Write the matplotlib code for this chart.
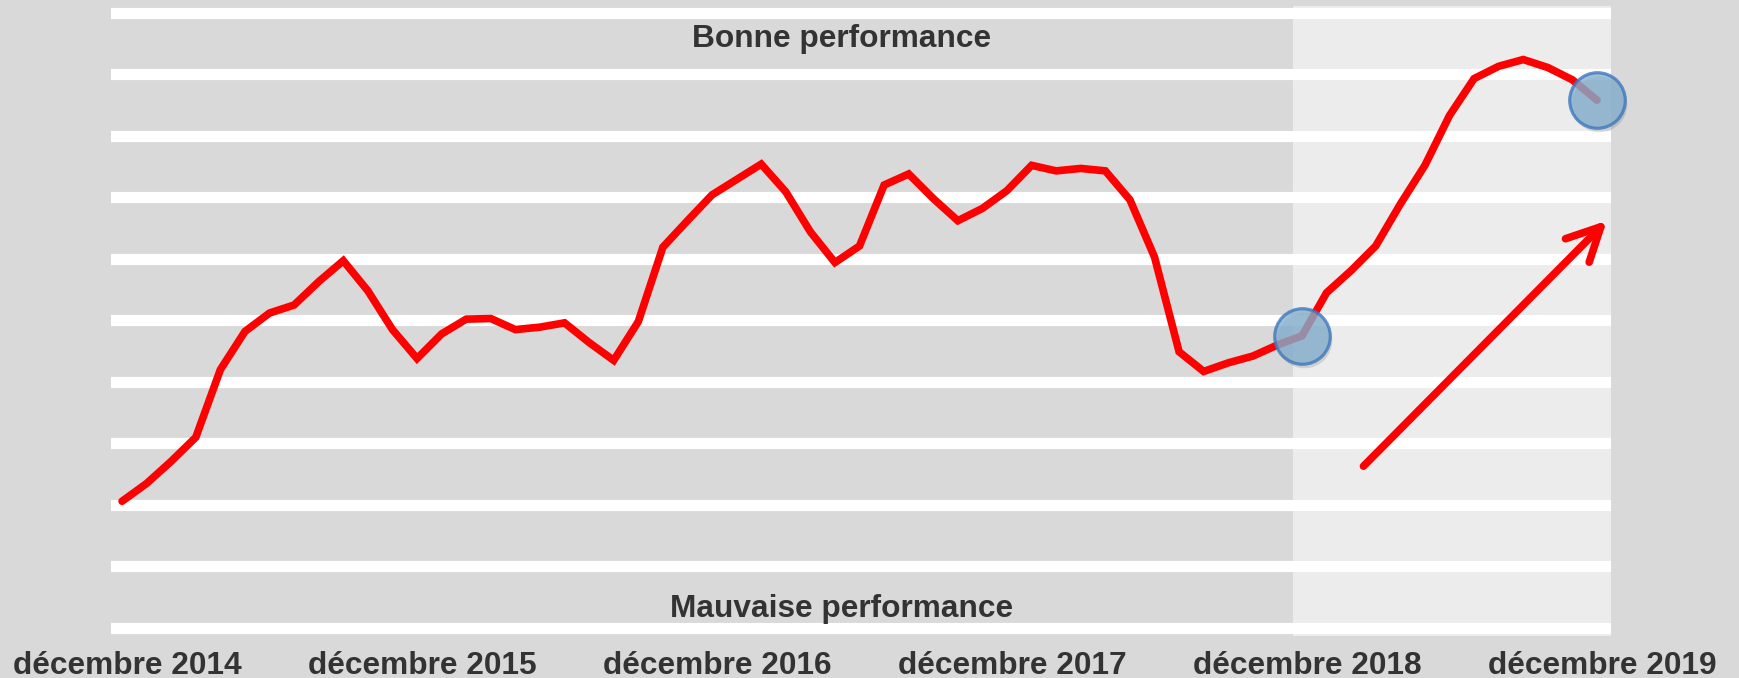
import numpy as np
import matplotlib
matplotlib.use("Agg")
import matplotlib.pyplot as plt
import matplotlib.transforms as mtransforms

# ── données (indice mensuel, déc. 2014 → déc. 2019) ─────────────────────────
MONTHS = np.arange(61)
VALUES = [
    2.06, 2.35, 2.71, 3.10, 4.20, 4.82, 5.12, 5.25, 5.63, 5.97, 5.48, 4.85,
    4.38, 4.78, 5.02, 5.03, 4.85, 4.89, 4.96, 4.64, 4.35, 4.98, 6.19, 6.62,
    7.04, 7.29, 7.54, 7.09, 6.44, 5.94, 6.21, 7.20, 7.38, 6.98, 6.62, 6.82,
    7.11, 7.52, 7.43, 7.47, 7.43, 6.96, 6.03, 4.49, 4.17, 4.31, 4.42, 4.60,
    4.75, 5.45, 5.81, 6.21, 6.89, 7.52, 8.33, 8.93, 9.13, 9.24, 9.11, 8.91,
    8.58,
]
TICK_POS = [0, 12, 24, 36, 48, 60]
TICK_LABELS = ["décembre 2014", "décembre 2015", "décembre 2016",
               "décembre 2017", "décembre 2018", "décembre 2019"]
HIGHLIGHT = [48, 60]          # points entourés
SHADE_START = 47.64           # début de la zone claire
ARROW_FROM = (50.5, 2.63)
ARROW_TO = (60.4, 6.62)
GRID_LEVELS = np.arange(0, 11)

# ── style ───────────────────────────────────────────────────────────────────
BG = "#d9d9d9"
LIGHT = "#ececec"
RED = "#ff0000"
TXT = "#333333"
FONT = ["Liberation Sans", "DejaVu Sans"]
FS = 22.8

plt.rcParams["font.family"] = FONT

W, H = 1739, 678
fig = plt.figure(figsize=(W / 100, H / 100), dpi=100)
fig.patch.set_facecolor(BG)
ax = fig.add_axes([111 / W, 42 / H, 1500 / W, 630 / H])
ax.set_facecolor(BG)
for s in ax.spines.values():
    s.set_visible(False)

ax.set_xlim(-0.45, 60.57)
ax.set_ylim(-0.13, 10.11)

ax.axvspan(SHADE_START, 60.57, color=LIGHT, zorder=0, lw=0)
for g in GRID_LEVELS:
    ax.axhline(g, color="white", lw=8, zorder=1)

ax.plot(MONTHS, VALUES, color=RED, lw=5.5, zorder=3,
        solid_joinstyle="miter", solid_capstyle="round", clip_on=False)

# cercles (ombre + bulle semi-transparente)
hx = [MONTHS[i] for i in HIGHLIGHT]
hy = [VALUES[i] for i in HIGHLIGHT]
shadow = ax.transData + mtransforms.ScaledTranslation(2 / 100, -4 / 100, fig.dpi_scale_trans)
ax.plot(hx, hy, "o", ms=40, color="black", alpha=0.12, mew=0,
        transform=shadow, zorder=4, clip_on=False)
ax.plot(hx, hy, "o", ms=40, markerfacecolor="#86b1d0", alpha=0.8,
        markeredgecolor="#3f78bd", mew=2.3, zorder=5, clip_on=False)

ax.annotate("", xy=ARROW_TO, xytext=ARROW_FROM,
            arrowprops=dict(arrowstyle="->, head_length=1.2, head_width=0.6",
                            color=RED, lw=5.5, shrinkA=0, shrinkB=0,
                            mutation_scale=20, capstyle="round"),
            zorder=3)

ax.text(0.487, 9.45, "Bonne performance", transform=ax.get_yaxis_transform(),
        ha="center", va="baseline", fontsize=FS, fontweight="bold", color=TXT)
ax.text(0.487, 0.18, "Mauvaise performance", transform=ax.get_yaxis_transform(),
        ha="center", va="baseline", fontsize=FS, fontweight="bold", color=TXT)

ax.set_yticks([])
ax.set_xticks(TICK_POS)
ax.set_xticklabels(TICK_LABELS, fontsize=FS, fontweight="bold", color=TXT)
ax.tick_params(axis="x", length=0, pad=11)
off = mtransforms.ScaledTranslation(5.5 / 100, 0, fig.dpi_scale_trans)
for lbl in ax.get_xticklabels():
    lbl.set_transform(lbl.get_transform() + off)

fig.savefig("out.png", dpi=100, facecolor=BG)
